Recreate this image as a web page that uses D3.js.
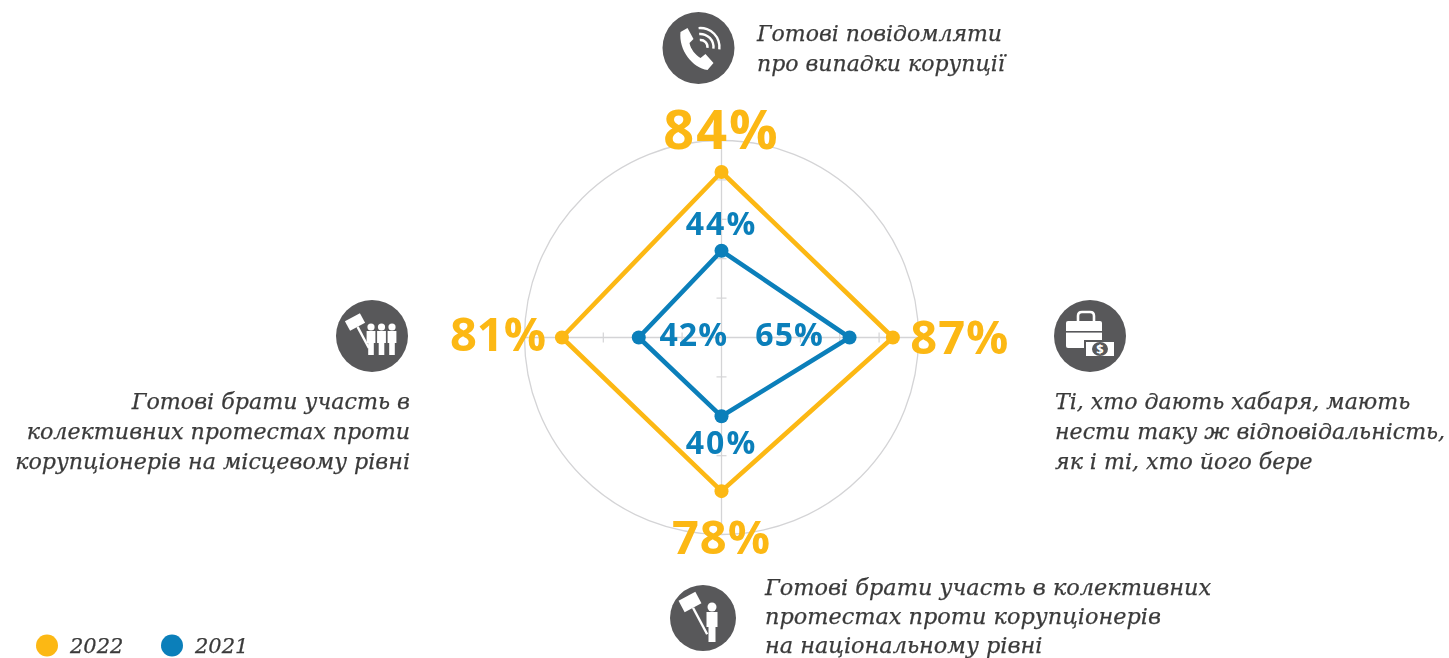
<!DOCTYPE html>
<html>
<head>
<meta charset="utf-8">
<script src="https://cdn.jsdelivr.net/npm/d3@7"></script>
<style>
  html, body { margin: 0; padding: 0; background: #fff; }
  svg { display: block; filter: blur(0.45px); }
  .note { font-family: "DejaVu Serif", serif; font-style: italic; fill: #3a3a3a; stroke: #3a3a3a; stroke-width: 0.25px; }
  .pct { font-family: "Open Sans", sans-serif; font-weight: 700; }
</style>
</head>
<body>
<svg id="radar" width="1449" height="658"></svg>
<script>
// order: top, right, bottom, left
var axes = ["report", "bribe", "national", "local"];
var values2022 = [84, 87, 78, 81];
var values2021 = [44, 65, 40, 42];
var gridTicks = [20, 40, 60, 80];
var legendYears = ["2022", "2021"];

var noteReport = ["Готові повідомляти", "про випадки корупції"];
var noteBribe = ["Ті, хто дають хабаря, мають", "нести таку ж відповідальність,", "як і ті, хто його бере"];
var noteNational = ["Готові брати участь в колективних", "протестах проти корупціонерів", "на національному рівні"];
var noteLocal = ["Готові брати участь в", "колективних протестах проти", "корупціонерів на місцевому рівні"];

var yellow = "#fcb814", blue = "#0b7fba", grey = "#58585a";
var cx = 721.5, cy = 337.5;

var svg = d3.select("#radar");
var r = d3.scaleLinear().domain([0, 100]).range([0, 197]);
var angle = d3.scalePoint().domain(axes.concat("end")).range([0, 2 * Math.PI]);

var chart = svg.append("g").attr("transform", "translate(" + cx + "," + cy + ")");

chart.append("circle")
  .attr("r", r(100))
  .attr("fill", "none")
  .attr("stroke", "#d4d4d6")
  .attr("stroke-width", 1.3);

axes.forEach(function(a) {
  var g = chart.append("g").attr("transform", "rotate(" + angle(a) * 180 / Math.PI + ")");
  g.append("line")
    .attr("y2", -r(100))
    .attr("stroke", "#d4d4d6")
    .attr("stroke-width", 1.3);
  g.selectAll(".tick")
    .data(gridTicks)
    .enter().append("line")
    .attr("x1", -5).attr("x2", 5)
    .attr("y1", function(d) { return -r(d); })
    .attr("y2", function(d) { return -r(d); })
    .attr("stroke", "#d4d4d6")
    .attr("stroke-width", 1.2);
});

function drawSeries(values, color) {
  var line = d3.lineRadial()
    .angle(function(d, i) { return angle(axes[i]); })
    .radius(function(d) { return r(d); })
    .curve(d3.curveLinearClosed);

  chart.append("path")
    .attr("d", line(values))
    .attr("fill", "none")
    .attr("stroke", color)
    .attr("stroke-width", 4.6)
    .attr("stroke-linejoin", "round");

  chart.selectAll(null)
    .data(values)
    .enter().append("circle")
    .attr("cx", function(d, i) { return r(d) * Math.sin(angle(axes[i])); })
    .attr("cy", function(d, i) { return -r(d) * Math.cos(angle(axes[i])); })
    .attr("r", 7)
    .attr("fill", color);
}
drawSeries(values2022, yellow);
drawSeries(values2021, blue);

// value labels, offset from the point along the axis
var bigOffsets = [[0, -42], [67, 0], [0, 46], [-64, -3]];
var bigSizes = [54, 47, 47, 47];
var bigSpacing = [2, 1, 1, 0];
var smallOffsets = [[0, -27], [-60, -3], [0, 26], [55, -3]];
var smallSizes = [32, 32, 32, 32];
var smallSpacing = [2, 1, 2, 1];

function drawValues(values, offsets, color, sizes, spacing) {
  chart.selectAll(null)
    .data(values)
    .enter().append("text")
    .attr("class", "pct")
    .attr("x", function(d, i) { return r(d) * Math.sin(angle(axes[i])) + offsets[i][0]; })
    .attr("y", function(d, i) { return -r(d) * Math.cos(angle(axes[i])) + offsets[i][1]; })
    .attr("dy", "0.36em")
    .attr("text-anchor", "middle")
    .attr("font-size", function(d, i) { return sizes[i]; })
    .attr("letter-spacing", function(d, i) { return spacing[i]; })
    .attr("fill", color)
    .text(function(d) { return d + "%"; });
}
drawValues(values2022, bigOffsets, yellow, bigSizes, bigSpacing);
drawValues(values2021, smallOffsets, blue, smallSizes, smallSpacing);

function drawNote(lines, x, y, anchor, size, lineHeight) {
  svg.append("g").selectAll("text")
    .data(lines)
    .enter().append("text")
    .attr("class", "note")
    .attr("x", x)
    .attr("y", function(d, i) { return y + i * lineHeight; })
    .attr("text-anchor", anchor)
    .attr("font-size", size)
    .text(function(d) { return d; });
}
drawNote(noteReport, 757, 41, "start", 22, 30);
drawNote(noteBribe, 1055, 409, "start", 22.1, 30);
drawNote(noteNational, 765, 595, "start", 22.4, 29);
drawNote(noteLocal, 410, 409, "end", 22.2, 30);

// icons
function iconBase(x, y, rad) {
  var g = svg.append("g").attr("transform", "translate(" + x + "," + y + ")");
  g.append("circle").attr("r", rad).attr("fill", grey);
  return g;
}

var phone = iconBase(698.5, 48, 36);
phone.append("path")
  .attr("d", "M-18,-16 L-11,-20 L-5,-9 L-9,-5 C-8,1 -3,7 2,10 L7,6 L15,15 L9,22 C-6,20 -20,2 -18,-16 Z")
  .attr("fill", "#fff");
[7, 13, 19].forEach(function(a) {
  phone.append("path")
    .attr("d", d3.arc().innerRadius(a - 1.2).outerRadius(a + 1.2).startAngle(-0.1).endAngle(1.7)())
    .attr("transform", "translate(2,-1)")
    .attr("fill", "#fff");
});

function person(g, x, y, s) {
  g.append("circle").attr("cx", x).attr("cy", y).attr("r", 3.6 * s).attr("fill", "#fff");
  g.append("path")
    .attr("d", "M" + (x - 4.4 * s) + "," + (y + 4 * s) + "h" + 8.8 * s + "v" + 12 * s + "h-" + 1.6 * s + "v" + 12 * s + "h-" + 5.6 * s + "v-" + 12 * s + "h-" + 1.6 * s + "z")
    .attr("fill", "#fff");
}

function placard(g, x, y, rot, w, h, len) {
  var p = g.append("g").attr("transform", "translate(" + x + "," + y + ") rotate(" + rot + ")");
  p.append("rect").attr("x", -w / 2).attr("y", -h / 2).attr("width", w).attr("height", h).attr("fill", "#fff");
  p.append("rect").attr("x", -1.2).attr("y", h / 2).attr("width", 2.4).attr("height", len).attr("fill", "#fff");
}

var crowd = iconBase(372, 336, 36);
placard(crowd, -17, -14, -28, 17, 11, 24);
person(crowd, -1, -9, 1);
person(crowd, 9.5, -9, 1);
person(crowd, 20, -9, 1);

var solo = iconBase(703, 618, 33);
placard(solo, -13, -16, -28, 19, 13, 30);
person(solo, 9, -11, 1.25);

var bribe = iconBase(1090, 336, 36);
bribe.append("path")
  .attr("d", "M-12,-15 v-5 q0,-4 4,-4 h8 q4,0 4,4 v5")
  .attr("fill", "none").attr("stroke", "#fff").attr("stroke-width", 2.6);
bribe.append("rect").attr("x", -24).attr("y", -15).attr("width", 36).attr("height", 27).attr("rx", 2).attr("fill", "#fff");
bribe.append("rect").attr("x", -24).attr("y", -5).attr("width", 36).attr("height", 1.6).attr("fill", grey);
bribe.append("rect").attr("x", -6).attr("y", 4).attr("width", 32).attr("height", 18).attr("fill", grey);
bribe.append("rect").attr("x", -4).attr("y", 6).attr("width", 28).attr("height", 14).attr("fill", "#fff");
bribe.append("ellipse").attr("cx", 10).attr("cy", 13).attr("rx", 8).attr("ry", 7).attr("fill", grey);
bribe.append("text")
  .attr("x", 10).attr("y", 18)
  .attr("text-anchor", "middle")
  .attr("font-family", "Open Sans, sans-serif")
  .attr("font-weight", 700)
  .attr("font-size", 13)
  .attr("fill", "#fff")
  .text("$");

// legend
var legendX = d3.scaleOrdinal().domain(legendYears).range([47, 172]);
var legendColor = d3.scaleOrdinal().domain(legendYears).range([yellow, blue]);

svg.selectAll(".legend-dot")
  .data(legendYears)
  .enter().append("circle")
  .attr("class", "legend-dot")
  .attr("cx", function(d) { return legendX(d); })
  .attr("cy", 645.5)
  .attr("r", 11)
  .attr("fill", function(d) { return legendColor(d); });

svg.selectAll(".legend-label")
  .data(legendYears)
  .enter().append("text")
  .attr("class", "note")
  .attr("x", function(d) { return legendX(d) + 23; })
  .attr("y", 653)
  .attr("font-size", 21)
  .text(function(d) { return d; });
</script>
</body>
</html>
